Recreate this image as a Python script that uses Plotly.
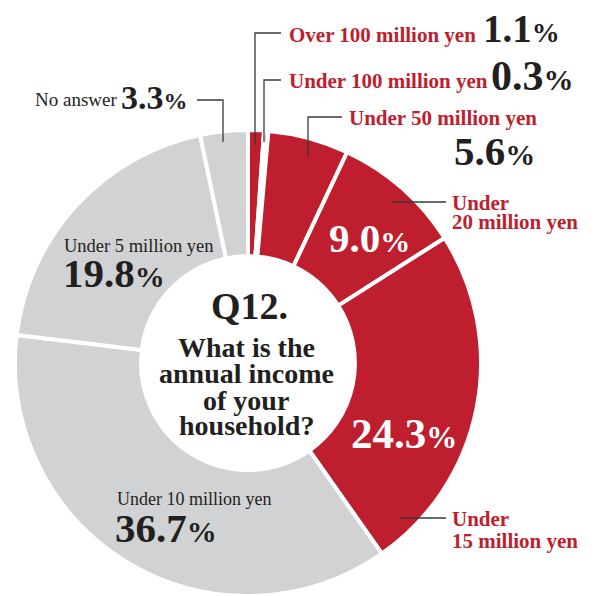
import plotly.graph_objects as go

# Household income survey (Q12) — share of respondents per income bracket
labels = [
    "Over 100 million yen",
    "Under 100 million yen",
    "Under 50 million yen",
    "Under 20 million yen",
    "Under 15 million yen",
    "Under 10 million yen",
    "Under 5 million yen",
    "No answer",
]
values = [1.1, 0.3, 5.6, 9.0, 24.3, 36.7, 19.8, 3.3]
high_bracket = [True, True, True, True, True, False, False, False]

RED = "#BE1E2D"
GRAY = "#D1D2D4"
INK = "#231F20"
LEADER = "#3A3A3A"
SERIF = "Liberation Serif"

W = H = 596


def px(x):
    return x / W


def py(y):
    return 1 - y / H


colors = [RED if h else GRAY for h in high_bracket]

fig = go.Figure(
    go.Pie(
        labels=labels,
        values=values,
        sort=False,
        direction="clockwise",
        rotation=0,
        hole=0.459,
        marker=dict(colors=colors, line=dict(color="white", width=4)),
        textinfo="none",
        hoverinfo="label+value",
        showlegend=False,
        domain=dict(x=[15 / W, 481 / W], y=[0, 466 / H]),
    )
)

annotations = []
shapes = []


def text(x, y, s, size, color, bold=False, anchor="left"):
    annotations.append(
        dict(
            x=px(x), y=py(y), xref="paper", yref="paper",
            text=s, showarrow=False, xanchor=anchor, yanchor="middle",
            font=dict(family=SERIF, size=size, color=color,
                      weight="bold" if bold else "normal"),
        )
    )


def pct(v, size):
    small = round(size * 0.72)
    return f"{v:.1f}<span style='font-size:{small}px'>%</span>"


def leader(points):
    path = "M " + " L ".join(f"{px(x)},{py(y)}" for x, y in points)
    shapes.append(dict(type="path", path=path, xref="paper", yref="paper",
                       line=dict(color=LEADER, width=1.3)))


v = dict(zip(labels, values))

# Top brackets with leader lines
text(287, 35, labels[0], 21, RED, bold=True)
text(481, 29, pct(v[labels[0]], 39), 39, INK, bold=True)
leader([(281, 33), (255, 33), (255, 145)])

text(287, 81, labels[1], 21, RED, bold=True)
text(489, 76, pct(v[labels[1]], 42), 42, INK, bold=True)
leader([(281, 80), (264, 80), (264, 142)])

text(347, 118, labels[2], 21, RED, bold=True)
text(452, 151, pct(v[labels[2]], 41), 41, INK, bold=True)
leader([(342, 117), (308, 117), (308, 157)])

# Under 20 million yen
text(369, 238, pct(v[labels[3]], 41), 41, "white", bold=True, anchor="center")
text(450, 203, "Under", 21, RED, bold=True)
text(450, 222, "20 million yen", 21, RED, bold=True)
leader([(392, 202), (446, 202)])

# Under 15 million yen
text(404, 433, pct(v[labels[4]], 43), 43, "white", bold=True, anchor="center")
text(450, 519, "Under", 21, RED, bold=True)
text(450, 541, "15 million yen", 21, RED, bold=True)
leader([(399, 518), (446, 518)])

# Under 10 million yen
text(115, 499, labels[5], 18, INK)
text(113, 528, pct(v[labels[5]], 41), 41, INK, bold=True)

# Under 5 million yen
text(62, 246, labels[6], 18.5, INK)
text(61, 273, pct(v[labels[6]], 41), 41, INK, bold=True)

# No answer
text(33, 100, labels[7], 19, INK)
text(119, 97, pct(v[labels[7]], 34), 34, INK, bold=True)
leader([(197, 100), (223, 100), (223, 142)])

# Question in the centre of the ring
text(249, 306, "Q12.", 38, INK, bold=True, anchor="center")
for yy, line in zip([347, 373, 400, 425],
                    ["What is the", "annual income", "of your", "household?"]):
    text(246, yy, line, 28, INK, bold=True, anchor="center")

fig.update_layout(
    width=W,
    height=H,
    margin=dict(l=0, r=0, t=0, b=0),
    paper_bgcolor="white",
    plot_bgcolor="white",
    annotations=annotations,
    shapes=shapes,
)

fig.write_html("out.html")
